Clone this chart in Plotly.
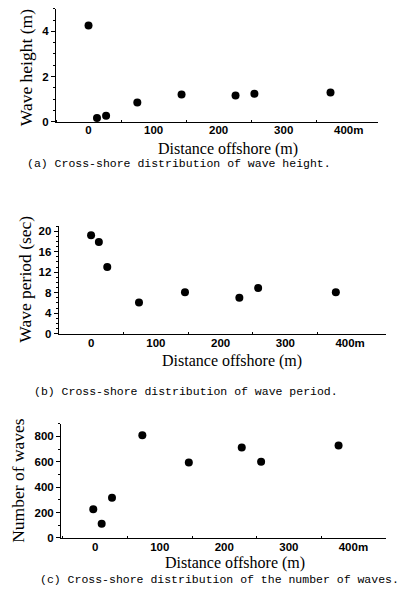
import plotly.graph_objects as go

# Data
dist_a = [0, 13, 27, 75, 143, 226, 255, 372]
height = [4.26, 0.16, 0.26, 0.85, 1.2, 1.16, 1.23, 1.29]

dist_b = [0, 12, 25, 74, 145, 229, 258, 378]
period = [19.2, 17.9, 13.0, 6.1, 8.1, 7.0, 8.9, 8.1]

dist_c = [-3, 10, 26, 73, 145, 227, 257, 377]
nwaves = [226, 112, 317, 808, 593, 712, 600, 728]

x_tickvals = [0, 100, 200, 300, 400]
x_ticktext = ["0", "100", "200", "300", "400m"]
x_title = "Distance offshore (m)"
y_titles = ["Wave height (m)", "Wave period (sec)", "Number of waves"]
captions = [
    "(a) Cross-shore distribution of wave height.",
    "(b) Cross-shore distribution of wave period.",
    "(c) Cross-shore distribution of the number of waves.",
]

W, H = 400, 593
serif = "Liberation Serif, Times New Roman, serif"
tickfont = dict(family="Liberation Sans, Arial, sans-serif", size=11.5, color="black", weight="bold")
mk = dict(color="black", size=8)

fig = go.Figure()
fig.add_trace(go.Scatter(x=dist_a, y=height, mode="markers", marker=mk, xaxis="x", yaxis="y", cliponaxis=False))
fig.add_trace(go.Scatter(x=dist_b, y=period, mode="markers", marker=mk, xaxis="x2", yaxis="y2", cliponaxis=False))
fig.add_trace(go.Scatter(x=dist_c, y=nwaves, mode="markers", marker=mk, xaxis="x3", yaxis="y3", cliponaxis=False))

panels = [
    # x-domain px, y px (top, bottom), xrange, yrange, y ticks, minor dtick
    (56, 378, 8, 122, [-50, 445], [0, 5], [0, 2, 4], 0.5),
    (58.7, 385.7, 227.7, 336.7, [-50, 455], [0, 21], [0, 4, 8, 12, 16, 20], 1),
    (61, 385.7, 427.7, 543.3, [-53, 450], [0, 900], [0, 200, 400, 600, 800], 100),
]

axis_common = dict(showline=True, linecolor="black", linewidth=1, showgrid=False, zeroline=False,
                   ticks="outside", tickcolor="black", tickwidth=1, tickfont=tickfont)

layout = {}
for i, (x0, x1, yt, yb, xr, yr, yt_vals, ymin) in enumerate(panels):
    sfx = "" if i == 0 else str(i + 1)
    layout["xaxis" + sfx] = dict(
        domain=[x0 / W, x1 / W], range=xr, anchor="y" + sfx,
        tickvals=x_tickvals, ticktext=x_ticktext, ticklen=0, ticklabelstandoff=-2,
        minor=dict(tickvals=[-50, 50, 150, 250, 350], ticks="inside", ticklen=2, tickcolor="black"),
        **axis_common)
    layout["yaxis" + sfx] = dict(
        domain=[1 - yb / H, 1 - yt / H], range=yr, anchor="x" + sfx,
        tickvals=yt_vals, ticklen=4,
        minor=dict(dtick=ymin, ticks="outside", ticklen=2, tickcolor="black"),
        **axis_common)

annotations = []
# captions
cap_pos = [(179, 164), (186, 395), (219, 585.5)]
for text, (cx, cy) in zip(captions, cap_pos):
    annotations.append(dict(text=text, x=cx / W, y=1 - cy / H, xref="paper", yref="paper",
                            showarrow=False, xanchor="center", yanchor="middle",
                            font=dict(family="Liberation Mono, monospace", size=11.5, color="black")))
# x-axis titles
for (cx, cy) in [(228, 149.5), (232, 364.5), (235, 569)]:
    annotations.append(dict(text=x_title, x=cx / W, y=1 - cy / H, xref="paper", yref="paper",
                            showarrow=False, xanchor="center", yanchor="middle",
                            font=dict(family=serif, size=16, color="black")))
# y-axis titles
for text, (cx, cy) in zip(y_titles, [(26, 68), (25, 282), (18.5, 485)]):
    annotations.append(dict(text=text, x=cx / W, y=1 - cy / H, xref="paper", yref="paper",
                            showarrow=False, xanchor="center", yanchor="middle", textangle=-90,
                            font=dict(family=serif, size=17.5, color="black")))

fig.update_layout(width=W, height=H, margin=dict(l=0, r=0, t=0, b=0),
                  plot_bgcolor="white", paper_bgcolor="white", showlegend=False,
                  annotations=annotations, **layout)

fig.write_html("out.html", config={"displayModeBar": False},
               post_script="document.body.style.margin='0';document.body.style.overflow='hidden';")
